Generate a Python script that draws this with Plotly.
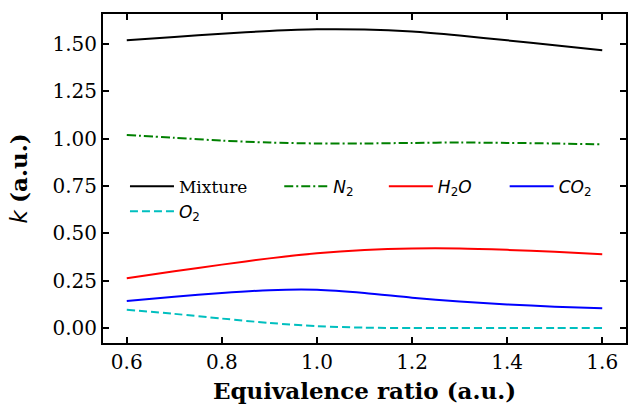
import plotly.graph_objects as go

phi = [0.6, 0.7, 0.8, 0.9, 1.0, 1.1, 1.2, 1.3, 1.4, 1.5, 1.6]
k_mixture = [1.520, 1.537, 1.555, 1.569, 1.578, 1.577, 1.566, 1.545, 1.520, 1.494, 1.467]
k_n2 = [1.020, 1.005, 0.990, 0.980, 0.975, 0.975, 0.978, 0.980, 0.978, 0.975, 0.970]
k_h2o = [0.263, 0.300, 0.335, 0.368, 0.395, 0.412, 0.420, 0.420, 0.413, 0.403, 0.390]
k_co2 = [0.143, 0.165, 0.185, 0.200, 0.202, 0.185, 0.160, 0.140, 0.125, 0.113, 0.105]
k_o2 = [0.097, 0.075, 0.050, 0.027, 0.010, 0.002, 0.000, 0.000, 0.000, 0.000, 0.000]

x_ticks = [0.6, 0.8, 1.0, 1.2, 1.4, 1.6]
x_ticklabels = ["0.6", "0.8", "1.0", "1.2", "1.4", "1.6"]
y_ticks = [0.0, 0.25, 0.5, 0.75, 1.0, 1.25, 1.5]
y_ticklabels = ["0.00", "0.25", "0.50", "0.75", "1.00", "1.25", "1.50"]

serif = "DejaVu Serif"
sans = "DejaVu Sans"

def sans_span(s):
    return "<span style='font-family:DejaVu Sans'>" + s + "</span>"

fig = go.Figure()
series = [
    ("Mixture", k_mixture, "#000000", "solid", "legend"),
    (sans_span("<i>N</i><sub>2</sub>"), k_n2, "#008000", "9px,3px,2px,3px", "legend2"),
    (sans_span("<i>H</i><sub>2</sub><i>O</i>"), k_h2o, "#ff0000", "solid", "legend3"),
    (sans_span("<i>CO</i><sub>2</sub>"), k_co2, "#0000ff", "solid", "legend4"),
    (sans_span("<i>O</i><sub>2</sub>"), k_o2, "#00bfbf", "8px,4px", "legend"),
]
for name, vals, color, dash, leg in series:
    fig.add_trace(go.Scatter(
        x=phi, y=vals, mode="lines", name=name,
        line=dict(color=color, width=2, dash=dash, shape="spline", smoothing=0.8),
        legend=leg,
    ))

axis_common = dict(
    showline=True, linecolor="black", linewidth=2, mirror="ticks",
    ticks="inside", ticklen=6, tickwidth=1.5, tickcolor="black",
    showgrid=False, zeroline=False,
    tickfont=dict(family=serif, size=20, color="black"),
)

leg_common = dict(
    bgcolor="rgba(0,0,0,0)", font=dict(family=serif, size=17, color="black"),
    xanchor="left", yanchor="top", yref="paper", tracegroupgap=0,
    itemwidth=44,
)

fig.update_layout(
    width=630, height=407,
    margin=dict(l=103, r=2, t=14, b=64),
    paper_bgcolor="white", plot_bgcolor="white",
    xaxis=dict(range=[0.55, 1.65], tickvals=x_ticks, ticktext=x_ticklabels,
               title=dict(text="<b>Equivalence ratio (a.u.)</b>",
                          font=dict(family=serif, size=23, color="black"), standoff=10),
               **axis_common),
    yaxis=dict(range=[-0.079, 1.659], tickvals=y_ticks, ticktext=y_ticklabels,
               title=dict(text=sans_span("<i>k</i>") + " <b>(a.u.)</b>",
                          font=dict(family=serif, size=23, color="black"), standoff=18),
               **axis_common),
    legend=dict(x=0.042, y=0.53, **leg_common),
    legend2=dict(x=0.337, y=0.53, **leg_common),
    legend3=dict(x=0.537, y=0.53, **leg_common),
    legend4=dict(x=0.768, y=0.53, **leg_common),
)

fig.write_html("out.html")
